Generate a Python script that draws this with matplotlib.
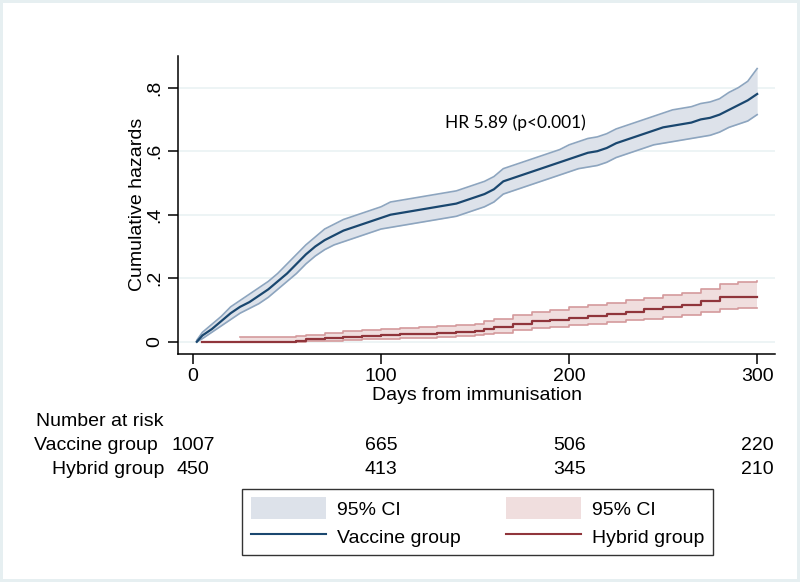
import matplotlib.pyplot as plt
import numpy as np
from matplotlib.patches import Patch
from matplotlib.lines import Line2D

# cumulative hazard estimates
vac_days = [2, 5, 10, 15, 20, 25, 30, 35, 40, 45, 50, 55, 60, 65, 70, 75, 80, 85, 90, 95,
            100, 105, 110, 115, 120, 125, 130, 135, 140, 145, 150, 155, 160, 165, 170, 175,
            180, 185, 190, 195, 200, 205, 210, 215, 220, 225, 230, 235, 240, 245, 250, 255,
            260, 265, 270, 275, 280, 285, 290, 295, 300]
vac = [0, 0.02, 0.04, 0.065, 0.09, 0.11, 0.125, 0.145, 0.165, 0.19, 0.215, 0.245, 0.275, 0.30,
       0.32, 0.335, 0.35, 0.36, 0.37, 0.38, 0.39, 0.40, 0.405, 0.41, 0.415, 0.42, 0.425, 0.43,
       0.435, 0.445, 0.455, 0.465, 0.48, 0.505, 0.515, 0.525, 0.535, 0.545, 0.555, 0.565, 0.575,
       0.585, 0.595, 0.60, 0.61, 0.625, 0.635, 0.645, 0.655, 0.665, 0.675, 0.68, 0.685, 0.69,
       0.70, 0.705, 0.715, 0.73, 0.745, 0.76, 0.78]
vac_hi = [0.005, 0.03, 0.055, 0.08, 0.11, 0.13, 0.15, 0.17, 0.19, 0.215, 0.245, 0.275, 0.305,
          0.33, 0.355, 0.37, 0.385, 0.395, 0.405, 0.415, 0.425, 0.44, 0.445, 0.45, 0.455, 0.46,
          0.465, 0.47, 0.475, 0.485, 0.495, 0.505, 0.52, 0.545, 0.555, 0.565, 0.575, 0.585,
          0.595, 0.605, 0.62, 0.63, 0.64, 0.645, 0.655, 0.67, 0.68, 0.69, 0.70, 0.71, 0.72,
          0.73, 0.735, 0.74, 0.75, 0.755, 0.765, 0.785, 0.80, 0.82, 0.86]
vac_lo = [0, 0.01, 0.03, 0.05, 0.07, 0.09, 0.105, 0.12, 0.14, 0.165, 0.19, 0.215, 0.245, 0.27,
          0.29, 0.305, 0.315, 0.325, 0.335, 0.345, 0.355, 0.36, 0.365, 0.37, 0.375, 0.38, 0.385,
          0.39, 0.395, 0.405, 0.415, 0.425, 0.44, 0.465, 0.475, 0.485, 0.495, 0.505, 0.515,
          0.525, 0.535, 0.545, 0.55, 0.555, 0.565, 0.58, 0.59, 0.6, 0.61, 0.62, 0.625, 0.63,
          0.635, 0.64, 0.645, 0.65, 0.66, 0.675, 0.685, 0.695, 0.715]

hyb_days = [5, 25, 55, 60, 70, 80, 90, 100, 110, 120, 130, 140, 150, 155, 160, 170, 180, 190,
            200, 210, 220, 230, 240, 250, 260, 270, 280, 290, 300]
hyb = [0, 0, 0.003, 0.008, 0.012, 0.016, 0.019, 0.021, 0.023, 0.025, 0.028, 0.031, 0.035,
       0.04, 0.047, 0.056, 0.064, 0.07, 0.076, 0.082, 0.088, 0.095, 0.102, 0.11, 0.117, 0.127,
       0.14, 0.141, 0.141]
hyb_hi = [np.nan, 0.015, 0.017, 0.022, 0.028, 0.033, 0.037, 0.04, 0.043, 0.046, 0.05, 0.053,
          0.057, 0.064, 0.072, 0.083, 0.093, 0.101, 0.108, 0.115, 0.122, 0.13, 0.138, 0.147,
          0.155, 0.167, 0.183, 0.188, 0.19]
hyb_lo = [np.nan, 0, 0, 0.002, 0.004, 0.006, 0.008, 0.01, 0.012, 0.013, 0.015, 0.017, 0.02,
          0.024, 0.029, 0.036, 0.042, 0.047, 0.052, 0.057, 0.062, 0.067, 0.073, 0.079, 0.085,
          0.093, 0.104, 0.105, 0.105]

risk_days = [0, 100, 200, 300]
risk_vac = [1007, 665, 506, 220]
risk_hyb = [450, 413, 345, 210]

navy = '#1a476f'
maroon = '#90353b'

plt.rcParams['font.family'] = ['Liberation Sans Narrow', 'Liberation Sans', 'DejaVu Sans']

fig = plt.figure(figsize=(8, 5.82), dpi=100)
fig.patch.set_facecolor('white')
fig.patch.set_edgecolor('#e6eff1')
fig.patch.set_linewidth(4)
ax = fig.add_axes([0.2225, 0.392, 0.7465, 0.512])

for y in [0, 0.2, 0.4, 0.6, 0.8]:
    ax.axhline(y, color='#eaf2f3', lw=1.2, zorder=0)

# vaccine group: dense small steps, drawn as a jagged line
ax.fill_between(vac_days, vac_lo, vac_hi, color='#dde2ea', lw=0, zorder=1)
ax.plot(vac_days, vac_hi, color='#8da5bf', lw=1.2, zorder=2)
ax.plot(vac_days, vac_lo, color='#8da5bf', lw=1.2, zorder=2)
ax.plot(vac_days, vac, color=navy, lw=1.6, zorder=3)

ax.fill_between(hyb_days, hyb_lo, hyb_hi, step='post', color='#f0dede', lw=0, zorder=1)
ax.plot(hyb_days, hyb_hi, drawstyle='steps-post', color='#d49a9c', lw=1.2, zorder=2)
ax.plot(hyb_days, hyb_lo, drawstyle='steps-post', color='#d49a9c', lw=1.2, zorder=2)
ax.plot(hyb_days, hyb, drawstyle='steps-post', color=maroon, lw=1.6, zorder=3)

ax.text(134, 0.69, 'HR 5.89 (p<0.001)', fontsize=12.5, family=['Lato', 'DejaVu Sans'],
        va='center', ha='left')

ax.set_xlim(-8, 309.6)
ax.set_ylim(-0.038, 0.90)
ax.set_xticks(risk_days)
ax.set_yticks([0, 0.2, 0.4, 0.6, 0.8])
ax.set_yticklabels(['0', '.2', '.4', '.6', '.8'], rotation=90, va='center')
ax.tick_params(labelsize=14, length=7, width=1.1, color='black')
ax.spines['top'].set_visible(False)
ax.spines['right'].set_visible(False)
ax.spines['left'].set_linewidth(1.1)
ax.spines['bottom'].set_linewidth(1.1)
ax.set_ylabel('Cumulative hazards', fontsize=14, labelpad=0)
ax.set_xlabel('Days from immunisation', fontsize=14, labelpad=1)

# number at risk table
fig.text(163 / 800, 1 - 422 / 582, 'Number at risk', fontsize=14, ha='right', va='center')
fig.text(158 / 800, 1 - 446 / 582, 'Vaccine group', fontsize=14, ha='right', va='center')
fig.text(164 / 800, 1 - 470 / 582, 'Hybrid group', fontsize=14, ha='right', va='center')
for d, nv, nh in zip(risk_days, risk_vac, risk_hyb):
    x_fig = fig.transFigure.inverted().transform(ax.transData.transform((d, 0)))[0]
    fig.text(x_fig, 1 - 446 / 582, str(nv), fontsize=14, ha='center', va='center')
    fig.text(x_fig, 1 - 470 / 582, str(nh), fontsize=14, ha='center', va='center')

handles = [Patch(facecolor='#dde2ea', edgecolor='none'),
           Line2D([], [], color=navy, lw=1.5),
           Patch(facecolor='#f0dede', edgecolor='none'),
           Line2D([], [], color=maroon, lw=1.5)]
labels = ['95% CI', 'Vaccine group', '95% CI', 'Hybrid group']
leg = fig.legend(handles, labels, ncol=2, loc='center', bbox_to_anchor=(0.597, 0.103),
                 fontsize=14, frameon=True, fancybox=False, edgecolor='black',
                 handlelength=3.9, handleheight=1.3, columnspacing=2.3, borderpad=0.45,
                 labelspacing=0.35, handletextpad=0.55)
leg.get_frame().set_linewidth(1.0)

fig.savefig('out.png', dpi=100)
